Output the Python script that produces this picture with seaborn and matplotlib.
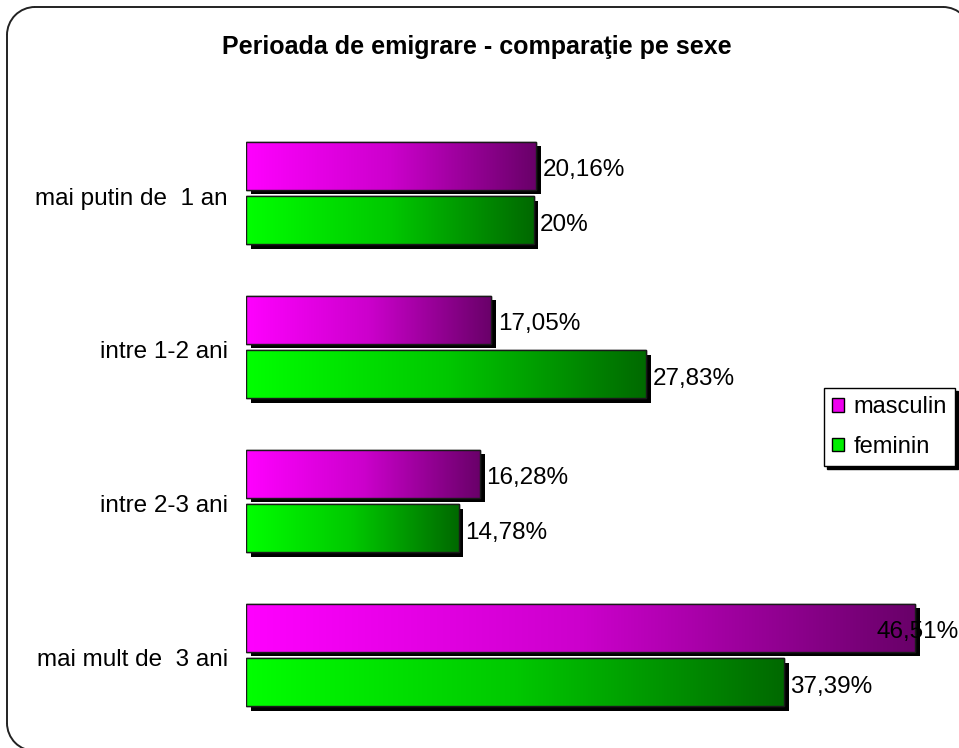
import numpy as np
import pandas as pd
import matplotlib.pyplot as plt
import matplotlib.patheffects as pe
from matplotlib.colors import LinearSegmentedColormap
from matplotlib.patches import Arc, Rectangle
from matplotlib.transforms import ScaledTranslation
import seaborn as sns

# --- data ---
categories = ["mai putin de  1 an", "intre 1-2 ani", "intre 2-3 ani", "mai mult de  3 ani"]
masculin = [20.16, 17.05, 16.28, 46.51]
feminin = [20, 27.83, 14.78, 37.39]
series = ["masculin", "feminin"]

df = pd.DataFrame({
    "perioada": categories * 2,
    "sex": ["masculin"] * 4 + ["feminin"] * 4,
    "procent": masculin + feminin,
})

sns.set_style("white")
plt.rcParams["font.family"] = ["Liberation Sans", "DejaVu Sans"]
plt.rcParams["text.color"] = "black"
plt.rcParams["ytick.labelcolor"] = "black"
plt.rcParams["savefig.bbox"] = "standard"

fig = plt.figure(figsize=(9.59, 7.48), dpi=100)

# background axes in pixel units: rounded outer frame, running off the right and bottom edges
bg = fig.add_axes([0, 0, 1, 1], zorder=-1)
bg.set_xlim(0, 959)
bg.set_ylim(748, 0)
bg.axis("off")
frame_kw = dict(color="#222222", lw=1.4)
r = 28
bg.plot([7, 7], [7 + r, 751 - r], **frame_kw)
bg.plot([7 + r, 971 - r], [7, 7], **frame_kw)
bg.add_patch(Arc((7 + r, 7 + r), 2 * r, 2 * r, theta1=180, theta2=270, **frame_kw))
bg.add_patch(Arc((971 - r, 7 + r), 2 * r, 2 * r, theta1=270, theta2=360, **frame_kw))
bg.add_patch(Arc((7 + r, 751 - r), 2 * r, 2 * r, theta1=90, theta2=180, **frame_kw))

ax = fig.add_axes([246 / 959, 16 / 748, 713 / 959, 616 / 748])
ax.patch.set_alpha(0)

palette = {"masculin": "#EE00EE", "feminin": "#00EE00"}
sns.barplot(data=df, y="perioada", x="procent", hue="sex", hue_order=series,
            palette=palette, orient="h", width=0.714, gap=0.127,
            edgecolor="#1a1a1a", linewidth=1.0, saturation=1, ax=ax)

# gradient fills + drop shadows
gradients = {
    "masculin": LinearSegmentedColormap.from_list("m", ["#FF00FF", "#CC00CC", "#690069"]),
    "feminin": LinearSegmentedColormap.from_list("f", ["#00FF00", "#00C800", "#006900"]),
}
grad = np.linspace(0, 1, 256).reshape(1, -1)
for name, cont in zip(series, ax.containers):
    for p in cont:
        x0, y0, w, h = p.get_x(), p.get_y(), p.get_width(), p.get_height()
        p.set_path_effects([pe.SimplePatchShadow(offset=(3.5, -3.5), shadow_rgbFace="black", alpha=1),
                            pe.Normal()])
        im = ax.imshow(grad, cmap=gradients[name], aspect="auto",
                       extent=(x0, x0 + w, y0 + h, y0), zorder=2.1, interpolation="bilinear")
        im.set_clip_path(p)
        ax.add_patch(Rectangle((x0, y0), w, h, fill=False, edgecolor="#1a1a1a", lw=1.0, zorder=2.2))

xmax = 713 / 14.38
ax.set_xlim(0, xmax)
ax.set_ylim(len(categories) - 0.5, -0.5)

# value labels
for cont in ax.containers:
    for p in cont:
        v = p.get_width()
        txt = f"{v:g}".replace(".", ",") + "%"
        yc = p.get_y() + p.get_height() / 2 + 0.03
        if v + 5.5 > xmax:
            ax.text(xmax - 0.05, yc, txt, ha="right", va="center", fontsize=17.5, zorder=5)
        else:
            ax.text(v + 0.45, yc, txt, ha="left", va="center", fontsize=17.5, zorder=5)

sns.despine(ax=ax, left=True, bottom=True)
ax.set_xticks([])
ax.set_xlabel("")
ax.set_ylabel("")
ax.tick_params(axis="y", length=0, pad=13, labelsize=17.5)
for lbl in ax.get_yticklabels():
    lbl.set_transform(lbl.get_transform() + ScaledTranslation(0, -3 / 100, fig.dpi_scale_trans))

# legend kept inside the canvas (shadow included)
sns.move_legend(ax, "upper right", bbox_to_anchor=(955 / 959, 1 - 388 / 748),
                bbox_transform=fig.transFigure, title=None, frameon=True,
                fontsize=17, handlelength=0.5, handleheight=0.5, handletextpad=0.4,
                labelspacing=0.75, borderpad=0.35, borderaxespad=0, fancybox=False,
                edgecolor="black", framealpha=1,
                shadow={"color": "black", "alpha": 1})
leg = ax.get_legend()
leg.get_frame().set_linewidth(1.0)
for h in leg.legend_handles:
    h.set_edgecolor("black")
    h.set_linewidth(1.0)

fig.text(477 / 959, 1 - 47 / 748, "Perioada de emigrare - comparaţie pe sexe",
         ha="center", va="center", fontsize=18, fontweight="bold")

fig.savefig("out.png", dpi=100, bbox_inches=None)
